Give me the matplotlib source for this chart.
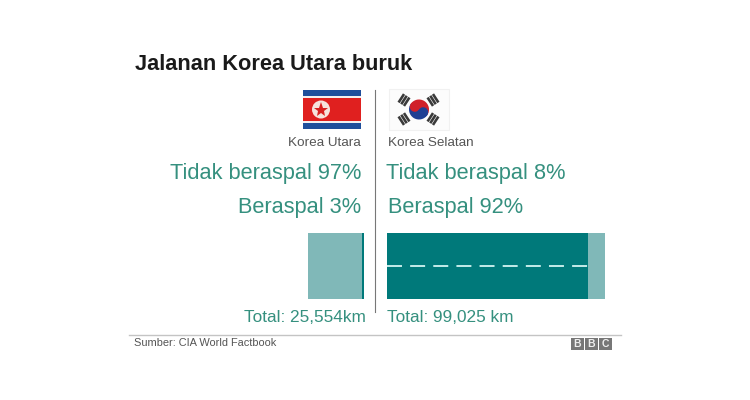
import matplotlib
matplotlib.use("Agg")
import matplotlib.pyplot as plt
from matplotlib.patches import Rectangle, Circle, Wedge
from matplotlib.transforms import Affine2D

plt.rcParams['font.family'] = ['Liberation Sans', 'DejaVu Sans']

# data
countries = ["Korea Utara", "Korea Selatan"]
total_km = [25554, 99025]
total_labels = ["Total: 25,554km", "Total: 99,025 km"]
unpaved_pct = [97, 8]
paved_pct = [3, 92]
title = "Jalanan Korea Utara buruk"
source = "Sumber: CIA World Factbook"

DARK = "#00797a"
LIGHT = "#80b8b8"
TEXT = "#35907f"
GREY_TEXT = "#555555"
W, H = 750, 400
PX_PER_KM = 218 / total_km[1]

fig = plt.figure(figsize=(W / 100, H / 100), dpi=100, facecolor="white")


def axes_px(x0, y0, x1, y1):
    # axes placed using pixel edges, y counted from the top
    return fig.add_axes([x0 / W, 1 - y1 / H, (x1 - x0) / W, (y1 - y0) / H])


# overlay for text and furniture, in pixels
bg = axes_px(0, 0, W, H)
bg.set_xlim(0, W)
bg.set_ylim(H, 0)
bg.axis("off")

# north korea grows to the left from the centre line
nk_left = 364 - total_km[0] * PX_PER_KM
ax_nk = axes_px(nk_left, 233, 364, 299)
ax_nk.set_xlim(total_km[0], 0)
ax_nk.set_ylim(0, 1)
ax_nk.axis("off")
nk_paved = total_km[0] * paved_pct[0] / 100
ax_nk.barh(0.5, total_km[0], height=1, color=LIGHT)
ax_nk.barh(0.5, nk_paved, height=1, color=DARK)

# south korea grows to the right, paved part drawn as a road
ax_sk = axes_px(387, 233, 387 + total_km[1] * PX_PER_KM, 299)
ax_sk.set_xlim(0, total_km[1])
ax_sk.set_ylim(0, 1)
ax_sk.axis("off")
sk_paved = total_km[1] * paved_pct[1] / 100
ax_sk.barh(0.5, total_km[1], height=1, color=LIGHT)
ax_sk.barh(0.5, sk_paved, height=1, color=DARK)
ax_sk.plot([0, sk_paved], [0.5, 0.5], color="#c4ecea", lw=1.4,
           dashes=(7.7, 4.2), dash_capstyle="butt")

# title and labels
bg.text(135, 64, title, fontsize=15.7, fontweight="bold", color="#1a1a1a",
        ha="left", va="center")
bg.text(361, 143, countries[0], fontsize=9.7, color=GREY_TEXT, ha="right", va="center")
bg.text(388, 143, countries[1], fontsize=9.7, color=GREY_TEXT, ha="left", va="center")
bg.text(361, 174, "Tidak beraspal {}%".format(unpaved_pct[0]), fontsize=15.7,
        color=TEXT, ha="right", va="center")
bg.text(386, 174, "Tidak beraspal {}%".format(unpaved_pct[1]), fontsize=15.7,
        color=TEXT, ha="left", va="center")
bg.text(361, 207, "Beraspal {}%".format(paved_pct[0]), fontsize=15.7,
        color=TEXT, ha="right", va="center")
bg.text(388, 207, "Beraspal {}%".format(paved_pct[1]), fontsize=15.7,
        color=TEXT, ha="left", va="center")
bg.text(366, 317.5, total_labels[0], fontsize=12.4, color=TEXT, ha="right", va="center")
bg.text(387, 317.5, total_labels[1], fontsize=12.4, color=TEXT, ha="left", va="center")
bg.text(134, 343.5, source, fontsize=7.9, color=GREY_TEXT, ha="left", va="center")

# divider and footer rule
bg.plot([375, 375], [90, 312], color="#777777", lw=0.8)
bg.plot([129, 621], [334.5, 334.5], color="#c4c4c4", lw=1)

# bbc blocks
for x, letter in zip([571, 585, 599], "BBC"):
    bg.add_patch(Rectangle((x, 338), 12.5, 12, color="#777777", lw=0))
    bg.text(x + 6.2, 344.3, letter, fontsize=7.5, fontweight="bold", color="#eeeeee",
            ha="center", va="center")

# north korean flag
bg.add_patch(Rectangle((303, 90), 58, 39, color="#1f4f9c", lw=0))
bg.add_patch(Rectangle((303, 96), 58, 27, color="#f3f0f0", lw=0))
bg.add_patch(Rectangle((303, 98), 58, 23, color="#e0201f", lw=0))
bg.add_patch(Circle((321, 109.5), 9, color="#f6e3dc", lw=0))
bg.plot([321], [109.8], marker="*", ms=11, color="#d8201f", mew=0)

# south korean flag
bg.add_patch(Rectangle((389, 89), 60, 41, facecolor="#fcfcfc", edgecolor="#f1f1f1", lw=0.8))
cx, cy = 419, 109.5
rot = Affine2D().rotate_deg_around(cx, cy, 33) + bg.transData
bg.add_patch(Wedge((cx, cy), 10, 180, 360, color="#d0202a", lw=0, transform=rot))
bg.add_patch(Wedge((cx, cy), 10, 0, 180, color="#1f3f94", lw=0, transform=rot))
bg.add_patch(Circle((cx - 5, cy), 5, color="#d0202a", lw=0, transform=rot))
bg.add_patch(Circle((cx + 5, cy), 5, color="#1f3f94", lw=0, transform=rot))
for tx, ty, angle in [(404, 100, 33), (433, 100, -33), (404, 119, -33), (433, 119, 33)]:
    # bars sit across the line to the centre of the flag
    tr = Affine2D().rotate_deg_around(tx, ty, angle + (90 if angle > 0 else -90)) + bg.transData
    for off in [-3.2, 0, 3.2]:
        bg.add_patch(Rectangle((tx - 5, ty + off - 1.3), 10, 2.6, color="#3a3a3a",
                               lw=0, transform=tr))

fig.savefig("out.png", dpi=100, facecolor="white")
plt.close(fig)
